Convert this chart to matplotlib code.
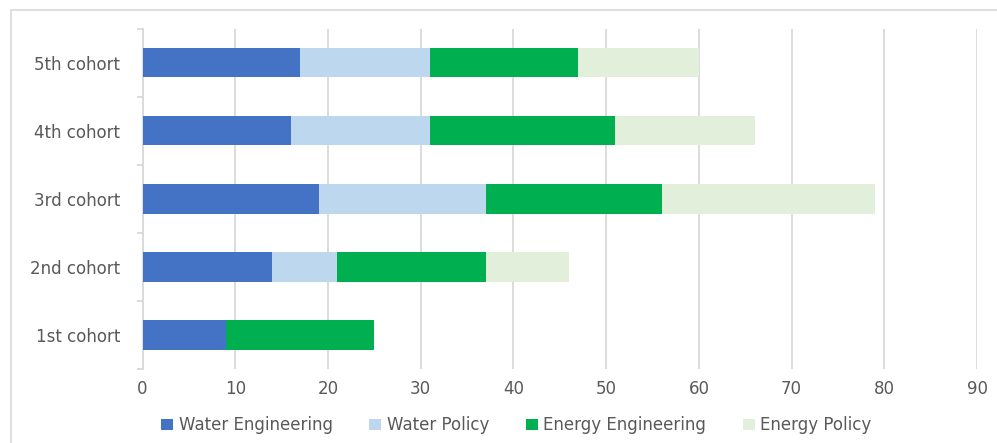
import matplotlib.pyplot as plt
import matplotlib.patches as patches
import numpy as np

plt.rcParams['font.family'] = ['DejaVu Sans']

# data
cohorts = ['1st cohort', '2nd cohort', '3rd cohort', '4th cohort', '5th cohort']
water_eng = [9, 14, 19, 16, 17]
water_pol = [0, 7, 18, 15, 14]
energy_eng = [16, 16, 19, 20, 16]
energy_pol = [0, 9, 23, 15, 13]

series = [('Water Engineering', water_eng, '#4472C4'),
          ('Water Policy', water_pol, '#BDD7EE'),
          ('Energy Engineering', energy_eng, '#00B050'),
          ('Energy Policy', energy_pol, '#E2EFDA')]

fig = plt.figure(figsize=(9.97, 4.43), dpi=100)
ax = fig.add_axes([0.143, 0.167, 0.837, 0.768])

y = np.arange(len(cohorts))
left = np.zeros(len(cohorts))
for name, vals, col in series:
    vals = np.array(vals, dtype=float)
    ax.barh(y, vals, left=left, height=0.43, color=col, label=name, zorder=3)
    left += vals

ax.set_xlim(0, 90)
ax.set_ylim(-0.5, len(cohorts) - 0.5)
ax.set_xticks(np.arange(0, 91, 10))
ax.set_yticks(y)
ax.set_yticklabels(cohorts)
ax.set_yticks(np.arange(-0.5, len(cohorts), 1), minor=True)

ax.grid(axis='x', color='#D9D9D9', linewidth=1.3, zorder=0)
for s in ['top', 'right', 'bottom']:
    ax.spines[s].set_visible(False)
ax.spines['left'].set_color('#D9D9D9')
ax.spines['left'].set_linewidth(1.3)

fs = 12
ax.tick_params(axis='x', length=0, pad=8, labelsize=fs, labelcolor='#595959')
ax.tick_params(axis='y', which='major', length=0, pad=16, labelsize=fs, labelcolor='#595959')
ax.tick_params(axis='y', which='minor', length=4, width=1.3, color='#D9D9D9')

leg = fig.legend(loc='center', bbox_to_anchor=(0.518, 0.04), ncol=4, frameon=False,
                 fontsize=fs, handlelength=0.7, handleheight=0.7,
                 handletextpad=0.35, columnspacing=2.2)
for t in leg.get_texts():
    t.set_color('#595959')

# outer chart border
fig.patches.append(patches.Rectangle((11 / 997, -0.1), 1.0, 1 - 10 / 443 + 0.1,
                                     transform=fig.transFigure, fill=False,
                                     edgecolor='#D9D9D9', linewidth=1.2))

plt.savefig('out.png', dpi=100)
